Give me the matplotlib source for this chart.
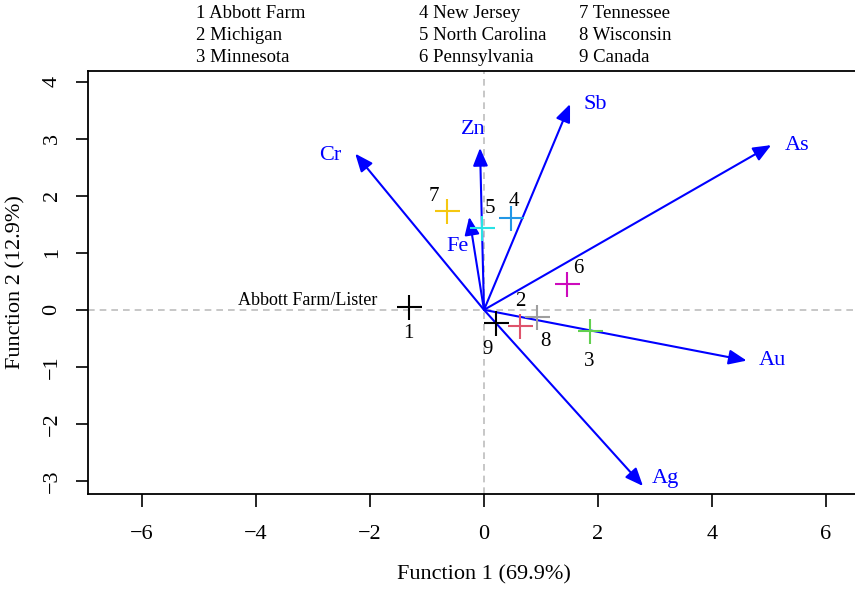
import matplotlib
matplotlib.use("Agg")
import matplotlib.pyplot as plt

plt.rcParams['font.family'] = ['Liberation Serif', 'DejaVu Serif']

# group centroids (Function 1, Function 2)
site_ids = ['1', '2', '3', '4', '5', '6', '7', '8', '9']
site_x = [-1.32, 0.63, 1.86, 0.47, -0.04, 1.46, -0.65, 0.93, 0.21]
site_y = [0.05, -0.28, -0.37, 1.61, 1.44, 0.46, 1.74, -0.12, -0.23]
site_colors = ['black', '#DF536B', '#61D04F', '#2297E6', '#28E2E5',
               '#CD0BBC', '#F5C710', '#9E9E9E', 'black']
id_x = [-1.32, 0.63, 1.84, 0.53, 0.10, 1.65, -0.88, 1.07, 0.07]
id_y = [-0.42, 0.15, -0.90, 1.90, 1.78, 0.73, 1.98, -0.55, -0.70]

# element loadings
elements = ['Cr', 'Zn', 'Sb', 'As', 'Fe', 'Au', 'Ag']
load_x = [-2.26, -0.07, 1.51, 5.04, -0.26, 4.61, 2.79]
load_y = [2.74, 2.84, 3.61, 2.89, 1.63, -0.89, -3.09]
elem_lx = [-2.70, -0.19, 1.95, 5.49, -0.46, 5.07, 3.18]
elem_ly = [2.70, 3.16, 3.61, 2.89, 1.12, -0.88, -2.96]

legend_cols = [['1 Abbott Farm', '2 Michigan', '3 Minnesota'],
               ['4 New Jersey', '5 North Carolina', '6 Pennsylvania'],
               ['7 Tennessee', '8 Wisconsin', '9 Canada']]

fig = plt.figure(figsize=(8.55, 5.89), dpi=100)
ax = fig.add_axes([88 / 855, 95 / 589, 792 / 855, 423 / 589])
ax.set_xlim(-6.95, 6.95)
ax.set_ylim(-3.23, 4.19)

ax.axhline(0, color='#BEBEBE', ls=(0, (4, 3)), lw=1.2, zorder=0)
ax.axvline(0, color='#BEBEBE', ls=(0, (4, 3)), lw=1.2, zorder=0)

for lx, ly, name, tx, ty in zip(load_x, load_y, elements, elem_lx, elem_ly):
    ax.annotate('', xy=(lx, ly), xytext=(0, 0),
                arrowprops=dict(arrowstyle='-|>,head_length=0.6,head_width=0.25',
                                color='blue', lw=1.5,
                                mutation_scale=18, shrinkA=0, shrinkB=0))
    ax.text(tx, ty, name, color='blue', fontsize=16, ha='center', va='center')

for x, y, c in zip(site_x, site_y, site_colors):
    ax.plot(x, y, marker='+', ms=18, mew=1.5, color=c, ls='none', zorder=3)
for tx, ty, s in zip(id_x, id_y, site_ids):
    ax.text(tx, ty, s, fontsize=15, ha='center', va='center')

ax.text(-1.88, 0.17, 'Abbott Farm/Lister', fontsize=13, ha='right', va='center')

ax.set_xticks([-6, -4, -2, 0, 2, 4, 6])
ax.set_yticks([-3, -2, -1, 0, 1, 2, 3, 4])
ax.set_xticklabels(['\u22126', '\u22124', '\u22122', '0', '2', '4', '6'])
ax.set_yticklabels(['\u22123', '\u22122', '\u22121', '0', '1', '2', '3', '4'],
                   rotation=90, va='center')
ax.tick_params(direction='out', length=9, width=1.2, labelsize=16)
ax.tick_params(axis='x', pad=13)
ax.tick_params(axis='y', pad=10)
for sp in ax.spines.values():
    sp.set_linewidth(1.3)

fig.text(484 / 855, 1 - 575 / 589, 'Function 1 (69.9%)', fontsize=16,
         ha='center', va='center')
fig.text(16 / 855, 1 - 282 / 589, 'Function 2 (12.9%)', fontsize=16,
         ha='center', va='center', rotation=90)

col_x = [196, 419, 579]
row_y = [13, 35, 57]
for cx, col in zip(col_x, legend_cols):
    for ry, s in zip(row_y, col):
        fig.text(cx / 855, 1 - ry / 589, s, fontsize=13.5, ha='left', va='center')

fig.savefig('out.png', dpi=100)
